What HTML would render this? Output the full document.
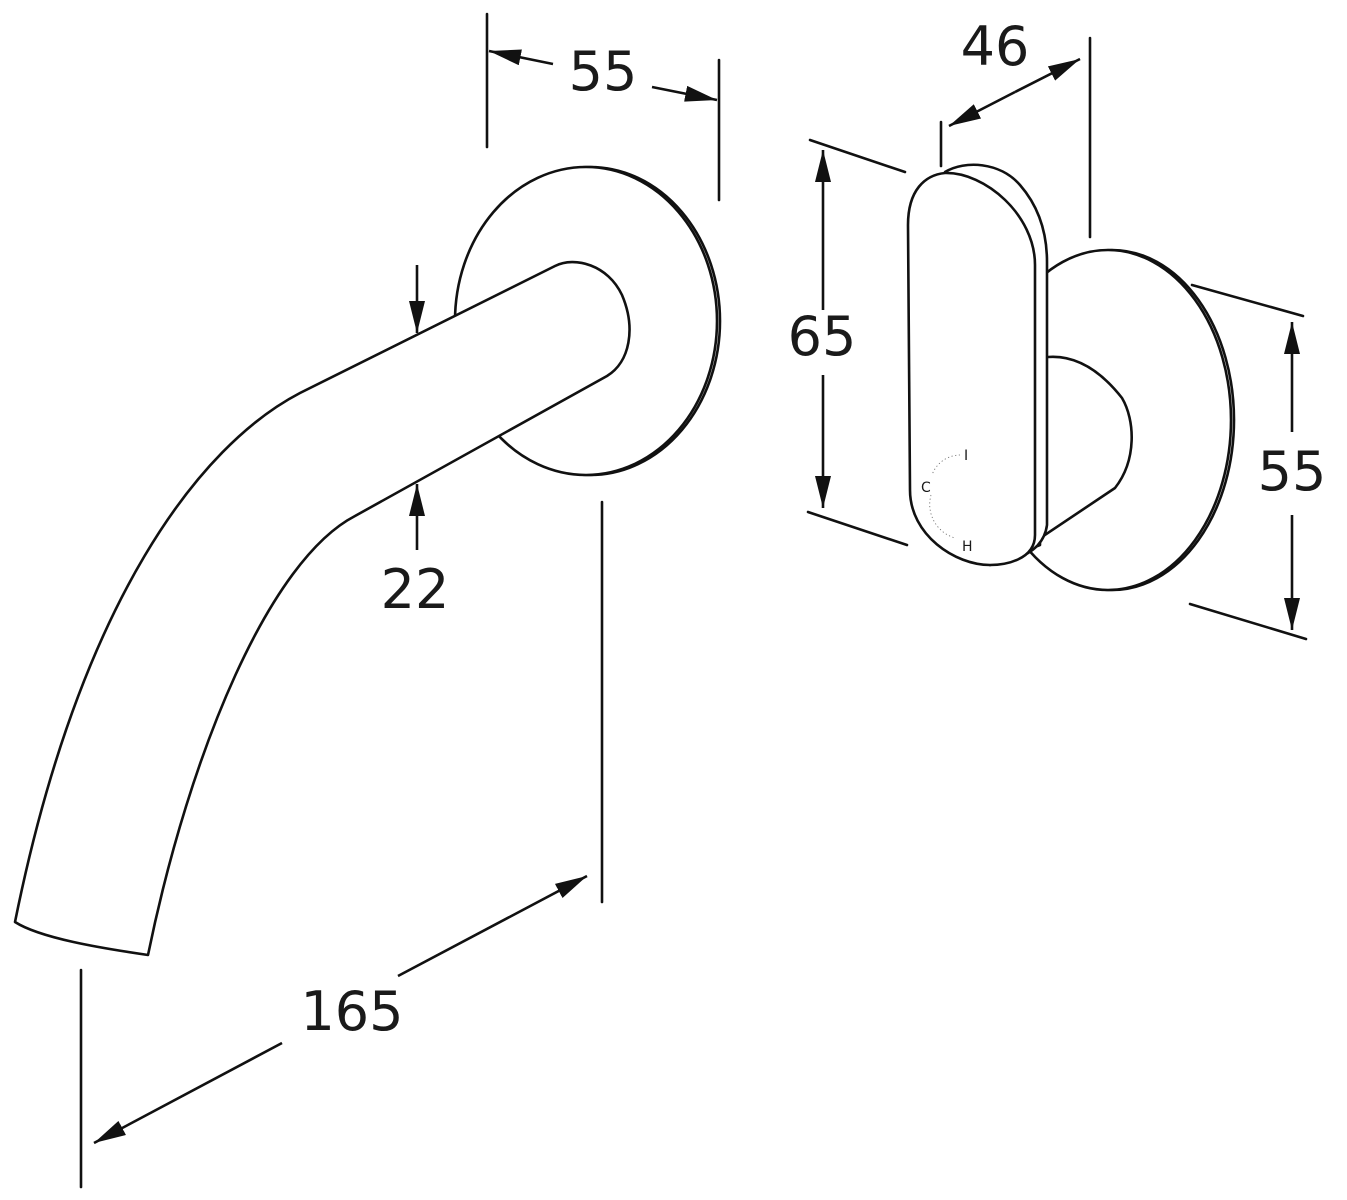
<!DOCTYPE html>
<html><head><style>
html,body{margin:0;padding:0;background:#fff;}
svg{display:block;}
text{font-family:"DejaVu Sans","Liberation Sans",sans-serif;fill:#1a1a1a;}
</style></head><body>
<svg width="1347" height="1200" viewBox="0 0 1347 1200" xmlns="http://www.w3.org/2000/svg">
<defs>
<marker id="b" viewBox="0 0 10 10" refX="10" refY="5" markerWidth="32" markerHeight="16" markerUnits="userSpaceOnUse" orient="auto" preserveAspectRatio="none">
<path d="M0,0 L10,5 L0,10 z" fill="#111"/>
</marker>
</defs>
<g fill="#fff" stroke="#111" stroke-width="2.6" stroke-linecap="round" stroke-linejoin="round">
<!-- spout wall plate -->
<ellipse cx="590" cy="321" rx="130" ry="154"/>
<ellipse cx="586" cy="321" rx="131" ry="154"/>
<!-- spout pipe -->
<path d="M555,266 C575,256 608,265 622,295 C636,328 630,362 607,376 L355,516 C270,560 190,750 148,955 C100,948 40,938 15,922 C80,600 200,445 300,393 Z"/>
<!-- mixer back plate -->
<ellipse cx="1112" cy="420" rx="122" ry="170"/>
<ellipse cx="1108" cy="420" rx="123" ry="170"/>
<!-- inner boss -->
<path d="M1040,357 L1048,357 C1075,355 1100,370 1122,398 C1135,420 1137,460 1115,488 L1015,555 L1040,545 Z"/>
<!-- back handle edge -->
<path d="M945,172 C965,160 1000,162 1020,185 C1040,208 1047,235 1047,262 L1047,525 C1045,540 1035,553 1012,560 L990,565 L945,200 Z"/>
<!-- front handle -->
<path d="M908,225 C908,190 925,175 945,173 C985,172 1035,215 1035,265 L1035,535 C1035,560 1005,565 990,565 C955,565 910,535 910,490 Z"/>
</g>
<g fill="none" stroke="#111" stroke-width="2.6" stroke-linecap="round">
<line x1="487" y1="14" x2="487" y2="147"/>
<line x1="719" y1="60" x2="719" y2="200"/>
<line x1="941" y1="122" x2="941" y2="166"/>
<line x1="1090" y1="38" x2="1090" y2="237"/>
<line x1="810" y1="140" x2="905" y2="172"/>
<line x1="808" y1="512" x2="907" y2="545"/>
<line x1="1192" y1="285" x2="1303" y2="316"/>
<line x1="1190" y1="604" x2="1306" y2="639"/>
<line x1="602" y1="502" x2="602" y2="902"/>
<line x1="81" y1="970" x2="81" y2="1187"/>
</g>
<g fill="none" stroke="#111" stroke-width="2.6">
<line x1="553" y1="64" x2="489" y2="51" marker-end="url(#b)"/>
<line x1="652" y1="87" x2="717" y2="100" marker-end="url(#b)"/>
<line x1="1015" y1="92" x2="949" y2="126" marker-end="url(#b)"/>
<line x1="1015" y1="92" x2="1080" y2="59" marker-end="url(#b)"/>
<line x1="823" y1="310" x2="823" y2="150" marker-end="url(#b)"/>
<line x1="823" y1="375" x2="823" y2="508" marker-end="url(#b)"/>
<line x1="1292" y1="432" x2="1292" y2="322" marker-end="url(#b)"/>
<line x1="1292" y1="515" x2="1292" y2="630" marker-end="url(#b)"/>
<line x1="417" y1="265" x2="417" y2="333" marker-end="url(#b)"/>
<line x1="417" y1="550" x2="417" y2="484" marker-end="url(#b)"/>
<line x1="398" y1="976" x2="587" y2="876" marker-end="url(#b)"/>
<line x1="282" y1="1043" x2="94" y2="1143" marker-end="url(#b)"/>
</g>
<g stroke="#666" stroke-width="0.8" fill="none">
<path d="M960,455 A30,30 0 0 0 932,475" stroke-dasharray="1.2,2.5"/>
<path d="M931,495 A35,35 0 0 0 955,538" stroke-dasharray="1.2,2.5"/>
</g>
<g font-size="14">
<text x="964" y="460">I</text>
<text x="921" y="492">C</text>
<text x="962" y="551">H</text>
</g>
<g font-size="54" text-anchor="middle">
<text x="603" y="90">55</text>
<text x="995" y="65">46</text>
<text x="822" y="355">65</text>
<text x="1292" y="490">55</text>
<text x="415" y="608">22</text>
<text x="352" y="1030">165</text>
</g>
</svg>
</body></html>
